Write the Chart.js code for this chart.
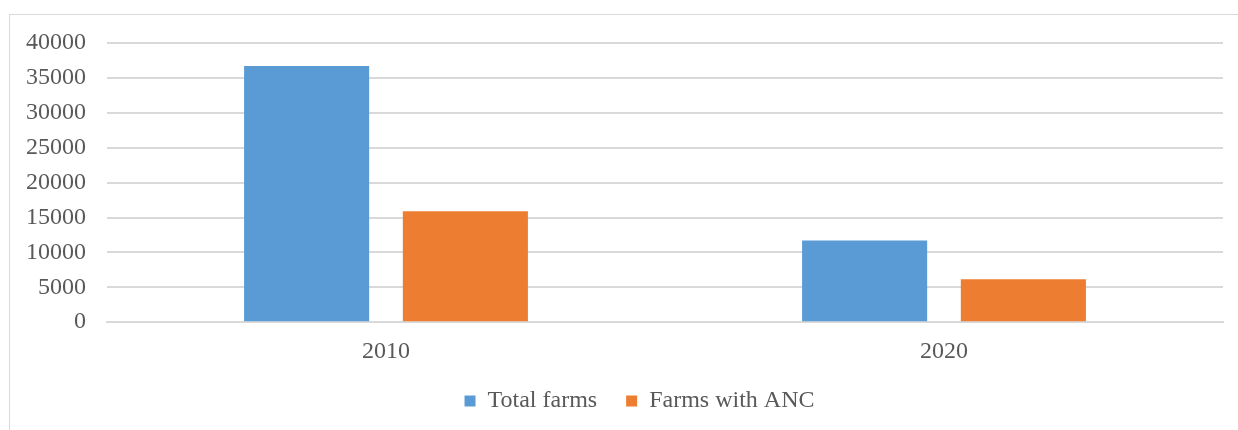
<!DOCTYPE html>
<html>
<head>
<meta charset="utf-8">
<script src="https://cdn.jsdelivr.net/npm/chart.js@4"></script>
<style>
  body { margin: 0; background: #fff; }
  #frame { position: absolute; left: 9px; top: 14px; width: 1240px; height: 430px; border: 1px solid #d9d9d9; }
  #wrap { position: absolute; left: 0; top: 0; width: 1238px; height: 430px; }
</style>
</head>
<body>
<div id="frame"></div>
<div id="wrap"><canvas id="myChart"></canvas></div>
<script>
// data
const years = ['2010', '2020'];
const totalFarms = [36700, 11700];
const farmsWithAnc = [15900, 6150];
const seriesNames = ['Total farms', 'Farms with ANC'];

const textColor = '#595959';
const gridColor = '#d9d9d9';
const serif = 'Liberation Serif, Times New Roman, serif';

// nudge the legend a bit to sit where the original one is
const legendNudge = {
  id: 'legendNudge',
  afterLayout(chart) {
    const lg = chart.legend;
    if (!lg) return;
    lg.left += 28; lg.right += 28;
    lg.top -= 13; lg.bottom -= 13;
  }
};

const ctx = document.getElementById('myChart').getContext('2d');
new Chart(ctx, {
  type: 'bar',
  data: {
    labels: years,
    datasets: [
      { label: seriesNames[0], data: totalFarms, backgroundColor: '#5b9bd5' },
      { label: seriesNames[1], data: farmsWithAnc, backgroundColor: '#ed7d31' }
    ]
  },
  options: {
    responsive: true,
    maintainAspectRatio: false,
    animation: false,
    categoryPercentage: 0.569,
    barPercentage: 0.788,
    layout: { padding: { left: 0, right: 15, top: 43, bottom: -6 } },
    plugins: {
      tooltip: { enabled: false },
      legend: {
        position: 'bottom',
        labels: {
          boxWidth: 11,
          boxHeight: 11,
          padding: 29,
          color: textColor,
          font: { family: serif, size: 24 }
        }
      }
    },
    scales: {
      x: {
        grid: { display: false },
        border: { color: gridColor, width: 2 },
        ticks: { color: textColor, padding: 7, font: { family: serif, size: 24 } }
      },
      y: {
        min: 0,
        max: 40000,
        afterFit: (scale) => { scale.width = 107; },
        grid: { color: gridColor, lineWidth: 2, drawTicks: false },
        border: { display: false },
        ticks: {
          stepSize: 5000,
          color: textColor,
          padding: 21,
          font: { family: serif, size: 24 },
          callback: (v) => String(v)
        }
      }
    }
  },
  plugins: [legendNudge]
});
</script>
</body>
</html>
